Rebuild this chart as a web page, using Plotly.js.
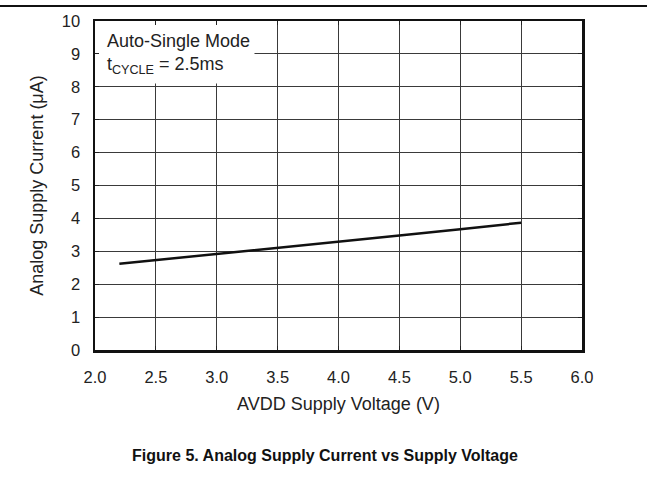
<!DOCTYPE html>
<html>
<head>
<meta charset="utf-8">
<script src="https://cdn.plot.ly/plotly-3.0.1.min.js"></script>
<style>html,body{margin:0;padding:0;background:#fff;}#chart{width:647px;height:494px;}</style>
</head>
<body>
<div id="chart"></div>
<script>
// Data
const voltage = [2.2, 2.5, 3.0, 3.5, 4.0, 4.5, 5.0, 5.5];
const current = [2.62, 2.73, 2.92, 3.10, 3.29, 3.48, 3.67, 3.87];
const xTickVals = [2.0, 2.5, 3.0, 3.5, 4.0, 4.5, 5.0, 5.5, 6.0];
const xTickText = ['2.0','2.5','3.0','3.5','4.0','4.5','5.0','5.5','6.0'];
const yTickVals = [0,1,2,3,4,5,6,7,8,9,10];

const FONT = 'Arial, "Liberation Sans", Helvetica, sans-serif';
const TXT = '#222';

const trace = {
  x: voltage, y: current, type: 'scatter', mode: 'lines',
  line: {color: '#111', width: 2.5}, hoverinfo: 'skip', showlegend: false
};

const ml = 95.3, mr = 65.3, mt = 20.5, mb = 143.5;
const pw = 647 - ml - mr, ph = 494 - mt - mb;

const layout = {
  width: 647, height: 494,
  margin: {l: ml, r: mr, t: mt, b: mb, pad: 0},
  paper_bgcolor: '#fff', plot_bgcolor: '#fff',
  font: {family: FONT, size: 16.5, color: TXT},
  showlegend: false,
  title: {
    text: '<b>Figure 5. Analog Supply Current vs Supply Voltage</b>',
    font: {family: FONT, size: 16, color: '#111'},
    x: 325/647, xref: 'container', xanchor: 'center',
    y: 1 - 455/494, yref: 'container', yanchor: 'middle'
  },
  xaxis: {
    range: [2.0, 6.0], tickvals: xTickVals, ticktext: xTickText,
    showgrid: true, gridcolor: '#3a3a3a', gridwidth: 1,
    zeroline: false, showline: true, linecolor: '#111', linewidth: 2.5, mirror: 'ticks',
    ticks: 'inside', ticklen: 4, tickwidth: 1, tickcolor: '#222',
    ticklabelstandoff: 11, fixedrange: true,
    tickfont: {family: FONT, size: 16.5, color: TXT},
    title: {text: 'AVDD Supply Voltage (V)', font: {family: FONT, size: 18, color: TXT}, standoff: 12}
  },
  yaxis: {
    range: [0, 10], tickvals: yTickVals,
    showgrid: true, gridcolor: '#3a3a3a', gridwidth: 1,
    zeroline: false, showline: true, linecolor: '#111', linewidth: 2.5, mirror: 'ticks',
    ticks: 'inside', ticklen: 4, tickwidth: 1, tickcolor: '#222',
    ticklabelstandoff: 9, fixedrange: true,
    tickfont: {family: FONT, size: 16.5, color: TXT},
    title: {text: 'Analog Supply Current (μA)', font: {family: FONT, size: 18, color: TXT}, standoff: 14}
  },
  shapes: [
    {type: 'rect', xref: 'x', yref: 'y', x0: 2.0, x1: 3.31, y0: 8.1, y1: 9.88,
     fillcolor: '#fff', line: {width: 0}, layer: 'between'},
    {type: 'line', xref: 'paper', yref: 'paper',
     x0: -ml/pw, x1: 1 + mr/pw, y0: 1 + (mt-5.5)/ph, y1: 1 + (mt-5.5)/ph,
     line: {color: '#111', width: 2}}
  ],
  annotations: [
    {text: 'Auto-Single Mode<br>t<sub>CYCLE</sub> = 2.5ms', xref: 'x', yref: 'y',
     x: 2.082, y: 9.75, xanchor: 'left', yanchor: 'top', align: 'left', showarrow: false,
     font: {family: FONT, size: 18, color: TXT}}
  ]
};

Plotly.newPlot('chart', [trace], layout, {staticPlot: true, displayModeBar: false});
</script>
</body>
</html>
